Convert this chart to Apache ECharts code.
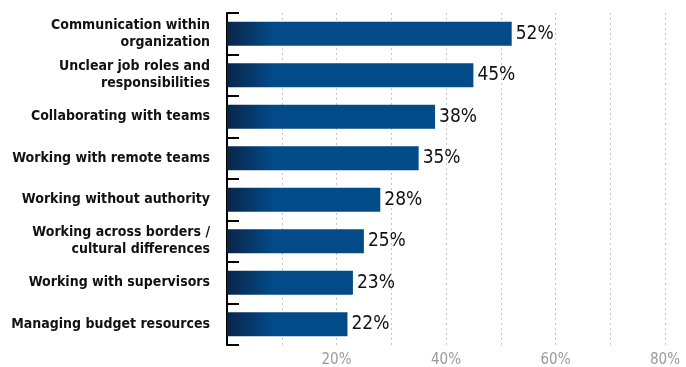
<!DOCTYPE html>
<html>
<head>
<meta charset="utf-8">
<script src="https://cdn.jsdelivr.net/npm/echarts@6/dist/echarts.min.js"></script>
<style>
  html, body { margin: 0; padding: 0; background: #fff; }
  #chart { width: 686px; height: 367px; }
</style>
</head>
<body>
<div id="chart"></div>
<script>
// challenges, top to bottom
const categories = [
  'Communication within\norganization',
  'Unclear job roles and\nresponsibilities',
  'Collaborating with teams',
  'Working with remote teams',
  'Working without authority',
  'Working across borders /\ncultural differences',
  'Working with supervisors',
  'Managing budget resources'
]
const values = [52, 45, 38, 35, 28, 25, 23, 22]
const tickLabels = [20, 40, 60, 80]

const chart = echarts.init(document.getElementById('chart'))
const gridLeft = 227

chart.setOption({
  animation: false,
  grid: {
    left: gridLeft,
    right: 21,
    top: 13,
    bottom: 22,
    outerBoundsMode: 'none'
  },
  xAxis: {
    type: 'value',
    min: 0,
    max: 80,
    interval: 10,
    axisLine: { show: false },
    axisTick: { show: false },
    axisLabel: {
      margin: 8,
      color: '#9a9a9a',
      fontSize: 15,
      fontFamily: 'DejaVu Sans Condensed, sans-serif',
      formatter: function (v) {
        return tickLabels.indexOf(v) >= 0 ? v + '%' : ''
      }
    },
    splitLine: {
      show: true,
      lineStyle: { color: '#c4c4c4', type: [2, 3], width: 1 }
    }
  },
  yAxis: {
    type: 'category',
    inverse: true,
    data: categories,
    axisLine: { show: true, lineStyle: { color: '#000', width: 2 } },
    axisTick: { show: true, inside: true, length: 12, lineStyle: { color: '#000', width: 2 } },
    axisLabel: {
      margin: 17,
      color: '#111',
      fontSize: 14,
      fontWeight: 'bold',
      lineHeight: 17,
      fontFamily: 'DejaVu Sans Condensed, sans-serif'
    }
  },
  series: [
    {
      type: 'bar',
      data: values,
      barWidth: 24,
      itemStyle: {
        color: new echarts.graphic.LinearGradient(gridLeft, 0, gridLeft + 45, 0, [
          { offset: 0, color: '#0a2448' },
          { offset: 1, color: '#024a88' }
        ], true)
      },
      label: {
        show: true,
        position: 'right',
        distance: 4,
        formatter: '{c}%',
        color: '#111',
        fontSize: 19,
        fontFamily: 'DejaVu Sans Condensed, sans-serif'
      }
    }
  ]
})
</script>
</body>
</html>
